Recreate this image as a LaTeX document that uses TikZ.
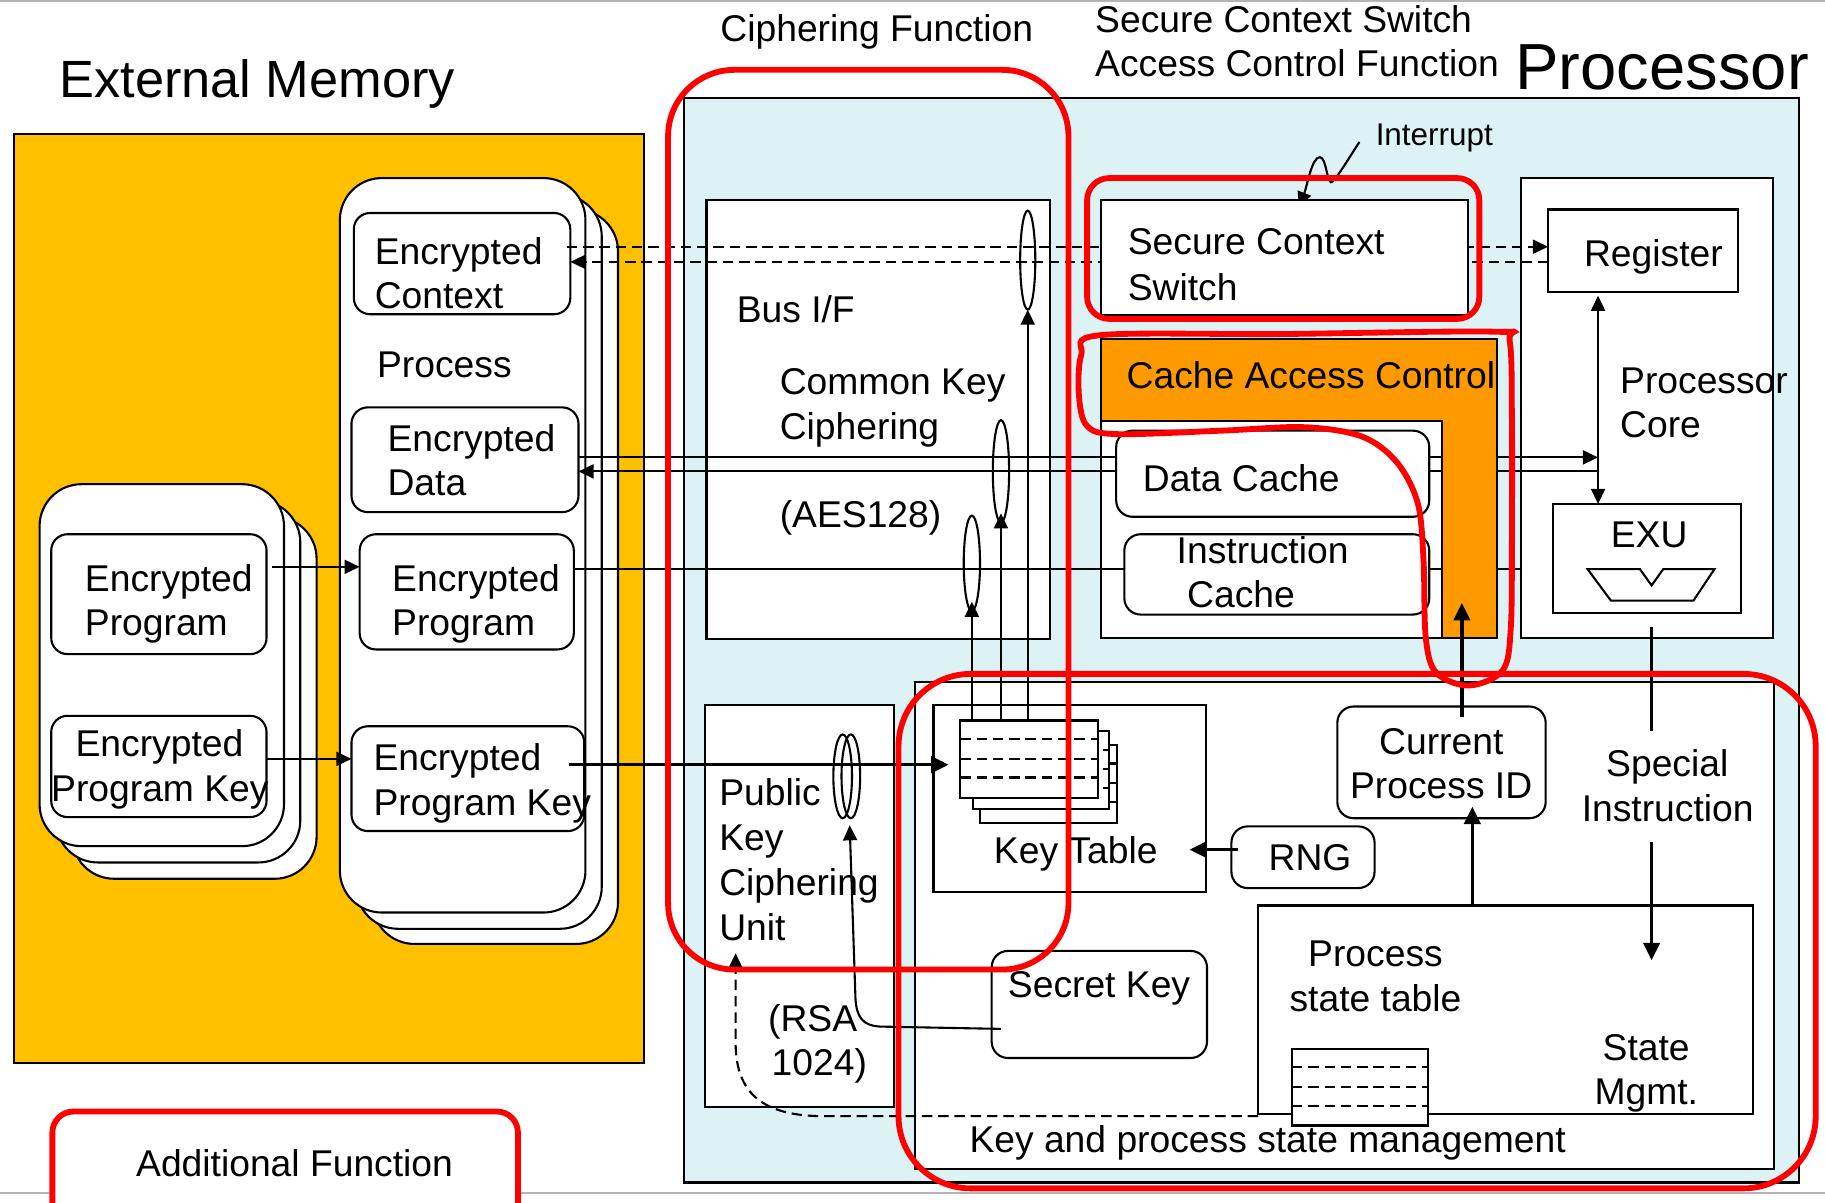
\documentclass[tikz,border=0pt]{standalone}
\usepackage{fontspec}
\setmainfont{Liberation Sans}
\usetikzlibrary{arrows.meta,shapes.geometric}
\definecolor{cyanbg}{HTML}{DDF2F4}
\definecolor{memyel}{HTML}{FFC000}
\definecolor{cacheor}{HTML}{FF9900}
\definecolor{slidegray}{HTML}{B4B4B4}
\newcommand\fs{\fontsize{32}{37}\selectfont}
\newcommand\bx[6][]{\node[#1, minimum width={#5-#3}, minimum height={#6-#4}] (#2) at ({(#3+#5)/2},{(#4+#6)/2}) {};}
\newcommand\tx[4][]{\node[txt,#1] (#2) at (#3) {#4};}
\begin{document}
\begin{tikzpicture}[x=1pt,y=-1pt,
  ln/.style={line width=1.8pt},
  thk/.style={line width=3pt},
  wbox/.style={draw, fill=white, line width=1.8pt, inner sep=0pt, outer sep=0pt},
  rbox/.style={wbox, rounded corners=14pt},
  card/.style={wbox, rounded corners=36pt},
  redbox/.style={draw=red, line width=5pt, inner sep=0pt, outer sep=0pt},
  ellip/.style={draw, ellipse, line width=1.8pt, inner sep=0pt, outer sep=0pt},
  txt/.style={anchor=base west, inner sep=0pt, outer sep=0pt, font=\fs},
  dsh/.style={dash pattern=on 9pt off 5pt},
  arr/.style={-{Triangle[length=13pt,width=12pt]}},
  arrB/.style={-{Triangle[length=15pt,width=14pt]}},
  arr2/.style={{Triangle[length=13pt,width=12pt]}-{Triangle[length=13pt,width=12pt]}}
]
\useasboundingbox (0,0) rectangle (1568,1033);
\fill[white] (0,0) rectangle (1568,1033);
\draw[slidegray, line width=2pt] (0,1) -- (1568,1);
\draw[slidegray, line width=2pt] (0,1025) -- (1568,1025);

% titles
\tx[font=\fontsize{45}{50}\selectfont]{tExt}{51,84}{External Memory}
\tx[font=\fontsize{56}{60}\selectfont]{tProc}{1302,77}{Processor}
\tx{tCiph}{619,36}{Ciphering Function}
\tx{tScsA}{941,28}{Secure Context Switch}
\tx{tScsB}{941,66}{Access Control Function}

% external memory
\bx[draw, fill=memyel, line width=1.8pt, inner sep=0pt]{extmem}{12}{115}{553}{913}
\bx[card]{pc3}{320}{180}{531}{811}
\bx[card]{pc2}{306}{167}{517}{798}
\bx[card]{pc1}{292}{153}{503}{784}
\bx[card]{lc3}{62}{444}{272}{755}
\bx[card]{lc2}{48}{430}{258}{741}
\bx[card]{lc1}{34}{416}{244}{727}
\bx[rbox]{ctx}{304}{183}{490}{270}
\bx[rbox]{edata}{302}{350}{497}{440}
\bx[rbox]{rprog}{309}{459}{493}{558}
\bx[rbox]{rkey}{302}{624}{502}{714}
\bx[rbox]{lprog}{44}{459}{229}{562}
\bx[rbox]{lkey}{44}{615}{229}{702}

\tx{tm1}{322,227}{Encrypted}
\tx{tm2}{322,265}{Context}
\tx{tm3}{324,324}{Process}
\tx{tm4}{333,388}{Encrypted}
\tx{tm5}{333,426}{Data}
\tx{tm6}{337,508}{Encrypted}
\tx{tm7}{337,546}{Program}
\tx{tm8}{321,662}{Encrypted}
\tx{tm9}{321,701}{Program Key}
\tx{tm10}{73,508}{Encrypted}
\tx{tm11}{73,546}{Program}
\tx{tm12}{65,650}{Encrypted}
\tx{tm13}{44,689}{Program Key}

\coordinate (yProg) at (0,487);
\coordinate (yKey) at (0,652);
\draw[ln, arr] (lprog.east |- yProg) ++(5,0) -- (rprog.west |- yProg);
\draw[ln, arr] (lkey.east |- yKey) -- (rkey.west |- yKey);

% processor
\bx[draw, fill=cyanbg, line width=1.8pt, inner sep=0pt]{proc}{588}{84}{1546}{1016}
\tx[font=\fontsize{27}{30}\selectfont]{tInt}{1182,125}{Interrupt}
\bx[wbox]{busif}{607}{172}{902}{549}
\bx[wbox]{pkcu}{606}{606}{768}{951}
\bx[wbox]{core}{1307}{153}{1523}{548}
\bx[wbox]{reg}{1330}{180}{1493}{251}
\bx[wbox]{exu}{1334}{433}{1496}{527}
\bx[wbox]{cachebox}{946}{291}{1286}{548}
\bx[wbox]{kpm}{786}{586}{1524}{1004}
\bx[wbox]{ktab}{802}{606}{1036}{766}
\bx[wbox]{kt3}{842}{640}{960}{707}
\draw[ln, dsh] (842,656) -- (960,656) (842,673) -- (960,673) (842,689) -- (960,689);
\bx[wbox]{kt2}{836}{628}{953}{695}
\draw[ln, dsh] (836,644) -- (953,644) (836,661) -- (953,661) (836,677) -- (953,677);
\bx[wbox]{kt1}{825}{619}{943}{686}
\draw[ln, dsh] (825,635) -- (943,635) (825,652) -- (943,652) (825,668) -- (943,668);
\bx[wbox]{pst}{1081}{778}{1506}{957}
\bx[wbox]{pstab}{1110}{901}{1227}{967}
\draw[ln, dsh] (1110,917) -- (1227,917) (1110,934) -- (1227,934) (1110,950) -- (1227,950);
\bx[rbox]{sk}{852}{817}{1037}{909}
\bx[rbox]{rng}{1058}{710}{1181}{763}
\bx[rbox]{cpid}{1149}{607}{1328}{703}

% ALU symbol
\draw[ln] (1364,489) -- (1409,489) -- (1419,503) -- (1429,489) -- (1473,489) -- (1455,516) -- (1384,516) -- cycle;

% ellipses
\node[ellip, minimum width=13pt, minimum height=85pt] (e1) at (883,223.5) {};
\node[ellip, minimum width=14pt, minimum height=88pt] (e2) at (860,405) {};
\node[ellip, minimum width=14pt, minimum height=82pt] (e3) at (835,484) {};
\node[ellip, minimum width=16pt, minimum height=72pt] (pe1) at (724,667) {};
\node[ellip, minimum width=16pt, minimum height=72pt] (pe2) at (731,667) {};

% bus connectors
\coordinate (yD1) at (0,212);
\coordinate (yD2) at (0,225);
\coordinate (yA1) at (0,393);
\coordinate (yA2) at (0,405);
\coordinate (yI) at (0,489);
\coordinate (yK) at (0,657);
\coordinate (yR) at (0,730);
\coordinate (yPD) at (0,959);
\coordinate (xV) at (1373,0);
\coordinate (xA) at (835,0);
\coordinate (xB) at (860,0);
\coordinate (xC) at (883,0);
\draw[ln, dsh, arr] (ctx.east |- yD1) ++(-3,0) -- (reg.west |- yD1);
\draw[ln, dsh, arr] (reg.west |- yD2) -- (ctx.east |- yD2);
\draw[ln, arr] (edata.east |- yA1) -- (xV |- yA1);
\draw[ln, arr] (xV |- yA2) -- (edata.east |- yA2);
\draw[ln] (rprog.east |- yI) -- (core.west |- yI);
\draw[thk, arrB, shorten >=10pt] (rkey.east |- yK) ++(-13,0) -- (kt1.west |- yK);
\draw[ln, arr] (xA |- kt1.north) -- ([yshift=8pt]e3.south);
\draw[ln, arr] (xB |- kt1.north) -- ([yshift=8pt]e2.south);
\draw[ln, arr] (xC |- kt1.north) -- (e1.south);
\draw[ln, arr2, shorten <=3pt] (xV |- reg.south) -- (xV |- exu.north);

% key management connectors
\coordinate (sp1) at (1419,539);
\coordinate (sp2) at (1419,628);
\coordinate (sp3) at (1419,723);
\coordinate (sp4) at (1419,825);
\draw[thk] (sp1) -- (sp2);
\draw[thk, arrB] (sp3) -- (sp4);
\coordinate (cpT) at (1256,616);
\coordinate (orB) at (1256,518);
\coordinate (psT) at (1265,778);
\coordinate (cpB) at (1265,693);
\draw[thk, arrB] (psT) -- (cpB);
\coordinate (ktR) at (1022,730);
\draw[thk, arrB] (rng.west |- yR) ++(6,0) -- (ktR);
\coordinate (skL) at (860,884);
\coordinate (peB) at (730,709);
\draw[ln, arr] (skL) -- (756,882) .. controls (741,881) and (736,874) .. (735,858) -- (peB);
\coordinate (pkB) at (632,819);
\draw[ln, dsh, arr] (pst.west |- yPD) -- (705,959) .. controls (650,958) and (632,935) .. (632,895) -- (pkB);

% interrupt
\coordinate (intS) at (1168,122);
\coordinate (intE) at (1116,178);
\draw[ln, arr] (intS) .. controls (1160,134) and (1152,148) .. (1145,156) .. controls (1140,161) and (1140,135) .. (1134,135) .. controls (1127,135) and (1123,160) .. (intE);

% boxes drawn over the bus lines
\bx[wbox]{scs}{946}{172}{1261}{271}
\filldraw[fill=cacheor, ln] (cachebox.north west) -- (cachebox.north east) -- (cachebox.south east) -- (1239,548) -- (1239,362) -- (946,362) -- cycle;
\bx[rbox]{dcache}{959}{370}{1228}{444}
\bx[rbox]{icache}{966}{459}{1228}{528}
\draw[thk, arrB] (cpT) -- (orB);

% processor texts
\tx{tp1}{633,277}{Bus I/F}
\tx{tp2}{670,339}{Common Key}
\tx{tp3}{670,378}{Ciphering}
\tx{tp4}{670,453}{(AES128)}
\tx{tp5}{969,219}{Secure Context}
\tx{tp6}{969,258}{Switch}
\tx{tp7}{968,334}{Cache Access Control}
\tx{tp8}{982,422}{Data Cache}
\tx{tp9}{1011,484}{Instruction}
\tx{tp10}{1020,522}{Cache}
\tx{tp11}{1361,229}{Register}
\tx{tp12}{1392,338}{Processor}
\tx{tp13}{1392,376}{Core}
\tx{tp14}{1384,470}{EXU}
\tx{tp15}{618,692}{Public}
\tx{tp16}{618,731}{Key}
\tx{tp17}{618,769}{Ciphering}
\tx{tp18}{618,808}{Unit}
\tx{tp19}{660,886}{(RSA}
\tx{tp20}{663,924}{1024)}
\tx{tp21}{854,742}{Key Table}
\tx{tp22}{866,857}{Secret Key}
\tx{tp23}{1090,748}{RNG}
\tx{tp24}{1185,648}{Current}
\tx{tp25}{1160,686}{Process ID}
\tx{tp26}{1380,667}{Special}
\tx{tp27}{1359,706}{Instruction}
\tx{tp28}{1124,830}{Process}
\tx{tp29}{1108,869}{state table}
\tx{tp30}{1377,911}{State}
\tx{tp31}{1370,949}{Mgmt.}
\tx{tp32}{833,990}{Key and process state management}

% additional function legend
\bx[redbox, fill=white, rounded corners=18pt]{rAdd}{45}{955}{445}{1060}
\tx{tAdd}{117,1011}{Additional Function}

% red highlight outlines
\bx[redbox, rounded corners=57pt]{rCiph}{574}{60}{918}{833}
\bx[redbox, rounded corners=19pt]{rScs}{934}{153}{1271}{274}
\bx[redbox, rounded corners=62pt]{rKey}{772}{579}{1560}{1021}
\draw[red, line width=5pt] plot[smooth cycle, tension=0.55] coordinates {(945,288) (1100,287) (1284,285) (1297,293) (1299,360) (1299,460) (1298,540) (1291,576) (1262,589) (1234,578) (1225,548) (1223,480) (1218,432) (1200,397) (1170,375) (1120,367) (1050,370) (960,373) (934,366) (927,340) (929,305)};
\end{tikzpicture}
\end{document}
